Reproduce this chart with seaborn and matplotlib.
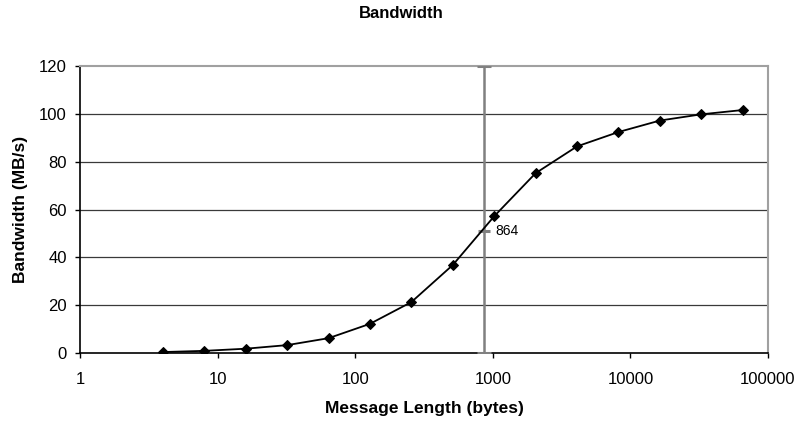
import numpy as np
import pandas as pd
import matplotlib
matplotlib.use("Agg")
import matplotlib.pyplot as plt
import seaborn as sns

msg_len = [4, 8, 16, 32, 64, 128, 256, 512, 1024, 2048, 4096, 8192, 16384, 32768, 65536]
bandwidth = [0.4, 0.9, 1.8, 3.3, 6.2, 12.2, 21.3, 36.8, 57.2, 75.2, 86.4, 92.4, 97.2, 99.8, 101.6]
marker_x = [864]
marker_y = [51]
marker_lo = [0]
marker_hi = [120]
marker_label = ["864"]
y_ticks = [0, 20, 40, 60, 80, 100, 120]
x_ticks = [1, 10, 100, 1000, 10000, 100000]
x_ticklabels = ["1", "10", "100", "1000", "10000", "100000"]

sns.set_theme(style="white")
plt.rcParams['font.family'] = ['Liberation Sans', 'DejaVu Sans']
plt.rcParams['text.color'] = 'black'
plt.rcParams['axes.labelcolor'] = 'black'
plt.rcParams['xtick.color'] = 'black'
plt.rcParams['ytick.color'] = 'black'

df = pd.DataFrame({"len": msg_len, "bw": bandwidth})

fig = plt.figure(figsize=(8.01, 4.21), dpi=100)
ax = fig.add_axes([0.0999, 0.1615, 0.8589, 0.6817])

for y in y_ticks[1:-1]:
    ax.axhline(y, color="#3a3a3a", lw=0.9, zorder=1)

sns.lineplot(data=df, x="len", y="bw", ax=ax, color="black", lw=1.3,
             marker="D", markersize=5.5, markeredgecolor="black", zorder=4)

ax.errorbar(marker_x, marker_y,
            yerr=[[marker_y[0] - marker_lo[0]], [marker_hi[0] - marker_y[0]]],
            fmt="_", color="#808080", ecolor="#808080", elinewidth=1.8,
            capsize=5, capthick=1.8, markersize=9, markeredgewidth=2.2, zorder=3)
ax.text(marker_x[0] * 1.2, marker_y[0], marker_label[0], fontsize=10,
        va="center", ha="left", color="black")

ax.set_xscale("log")
ax.set_xlim(1, 100000)
ax.set_ylim(0, 120)
ax.set_xticks(x_ticks)
ax.set_xticklabels(x_ticklabels)
ax.xaxis.set_minor_locator(matplotlib.ticker.NullLocator())
ax.set_yticks(y_ticks)
ax.tick_params(axis="both", which="major", length=3.5, width=1, color="black",
               labelcolor="black", direction="out", labelsize=12, bottom=True, left=True)
ax.tick_params(axis="y", pad=6)
ax.tick_params(axis="x", pad=10)

for s in ["left", "bottom"]:
    ax.spines[s].set_color("black")
    ax.spines[s].set_linewidth(1.2)
for s in ["top", "right"]:
    ax.spines[s].set_color("#a0a0a0")
    ax.spines[s].set_linewidth(1.5)

ax.set_xlabel("Message Length (bytes)", fontsize=12.5, fontweight="bold", color="black")
ax.set_ylabel("Bandwidth (MB/s)", fontsize=12.5, fontweight="bold", color="black")
ax.xaxis.set_label_coords(0.5, -0.192)
ax.xaxis.label.set_va("center")
ax.yaxis.set_label_coords(-0.0858, 0.5)
ax.yaxis.label.set_va("center")
fig.text(0.501, 0.969, "Bandwidth", ha="center", va="center", fontsize=12,
         fontweight="bold", color="black")

fig.savefig("out.png", dpi=100)
